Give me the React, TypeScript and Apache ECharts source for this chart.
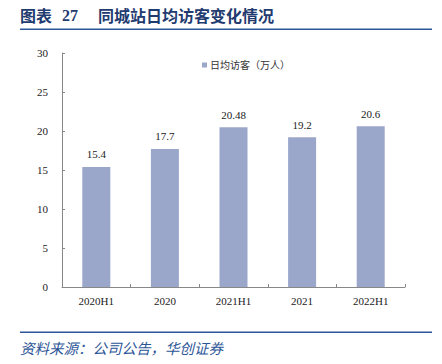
import React, { useEffect, useRef } from "react";
import * as echarts from "echarts";

const categories = ["2020H1", "2020", "2021H1", "2021", "2022H1"];
const visitors = [15.4, 17.7, 20.48, 19.2, 20.6];
const seriesName = "日均访客（万人）";
const titleLabel = "图表 27";
const titleText = "同城站日均访客变化情况";
const sourceText = "资料来源：公司公告，华创证券";

export default function App() {
  const ref = useRef<HTMLDivElement>(null);
  useEffect(() => {
    const chart = echarts.init(ref.current!, null, { renderer: "svg" });
    const serif = "'Liberation Serif', 'Times New Roman', serif";
    const cjk = "'Liberation Serif', 'Noto Sans CJK SC', serif";
    chart.setOption({
      animation: false,
      backgroundColor: "#ffffff",
      grid: { left: 62, right: 37, top: 53, bottom: 77 },
      legend: {
        data: [seriesName],
        left: 197,
        top: 55,
        itemWidth: 5,
        itemHeight: 5,
        itemGap: 4,
        icon: "rect",
        textStyle: { fontSize: 10, color: "#333", fontFamily: cjk, padding: [0, 0, 0, -2] },
      },
      xAxis: {
        type: "category",
        data: categories,
        axisLine: { lineStyle: { color: "#888", width: 1 } },
        axisTick: { show: true, inside: true, length: 3, alignWithLabel: false, lineStyle: { color: "#888" } },
        axisLabel: { color: "#222", fontSize: 11, fontFamily: serif, margin: 8 },
      },
      yAxis: {
        type: "value",
        min: 0,
        max: 30,
        interval: 5,
        axisLine: { show: true, lineStyle: { color: "#888", width: 1 } },
        axisTick: { show: true, inside: true, length: 3, lineStyle: { color: "#888" } },
        splitLine: { show: false },
        axisLabel: { color: "#222", fontSize: 11, fontFamily: serif, margin: 14 },
      },
      series: [
        {
          name: seriesName,
          type: "bar",
          data: visitors,
          barWidth: 28,
          itemStyle: { color: "#9BA6CB" },
          label: {
            show: true,
            position: "top",
            distance: 7,
            color: "#222",
            fontSize: 11,
            fontFamily: serif,
          },
        },
      ],
      graphic: [
        {
          type: "text",
          left: 20,
          top: 7,
          style: { text: "图表", fontSize: 16, fontWeight: "bold", fill: "#1F3B70", fontFamily: "'Noto Sans CJK SC', sans-serif" },
        },
        {
          type: "text",
          left: 62,
          top: 7,
          style: { text: titleLabel.replace("图表 ", ""), fontSize: 16, fontWeight: "bold", fill: "#1F3B70", fontFamily: serif },
        },
        {
          type: "text",
          left: 98,
          top: 7,
          style: { text: titleText, fontSize: 16, fontWeight: "bold", fill: "#1F3B70", fontFamily: "'Noto Sans CJK SC', sans-serif" },
        },
        {
          type: "rect",
          shape: { x: 20, y: 28.5, width: 412, height: 1.5 },
          style: { fill: "#2C5597" },
        },
        {
          type: "rect",
          shape: { x: 20, y: 331.5, width: 412, height: 1.5 },
          style: { fill: "#2C5597" },
        },
        {
          type: "text",
          left: 20,
          top: 340,
          style: { text: sourceText, fontSize: 14.5, fontStyle: "italic", fill: "#2C5597", fontFamily: "'Noto Sans CJK SC', sans-serif" },
        },
      ],
    });
    return () => chart.dispose();
  }, []);
  return <div ref={ref} style={{ width: 442, height: 364, position: "fixed", left: 0, top: 0 }} />;
}
